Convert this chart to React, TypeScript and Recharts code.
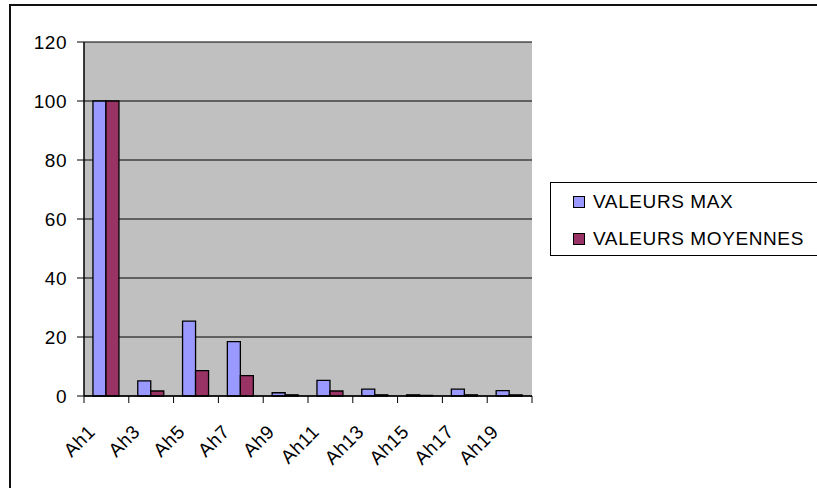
import { BarChart, Bar, XAxis, YAxis, CartesianGrid } from 'recharts';

const categories = ['Ah1', 'Ah3', 'Ah5', 'Ah7', 'Ah9', 'Ah11', 'Ah13', 'Ah15', 'Ah17', 'Ah19'];
const maxValues = [100, 5.1, 25.4, 18.4, 1.1, 5.3, 2.3, 0.4, 2.3, 1.8];
const moyValues = [100, 1.7, 8.6, 6.9, 0.4, 1.7, 0.4, 0.2, 0.4, 0.4];
const yTicks = [0, 20, 40, 60, 80, 100, 120];

const MAX_COLOR = '#9999FF';
const MOY_COLOR = '#993366';
const FONT = '"Liberation Sans", Arial, sans-serif';

const data = categories.map((name, i) => ({
  name,
  max: maxValues[i],
  moy: moyValues[i],
}));

function CategoryTick(props: any) {
  const { x, y, payload, index } = props;
  const half = payload?.offset ?? 22.4;
  const tx = x - 10;
  const ty = y + 37;
  return (
    <g>
      <line x1={x - half} y1={y} x2={x - half} y2={y + 7} stroke="#000" />
      {index === categories.length - 1 && (
        <line x1={x + half} y1={y} x2={x + half} y2={y + 7} stroke="#000" />
      )}
      <text
        x={tx}
        y={ty}
        textAnchor="end"
        fill="#000"
        fontSize={19}
        fontFamily={FONT}
        letterSpacing={0.5}
        transform={`rotate(-45, ${tx}, ${ty})`}
      >
        {payload.value}
      </text>
    </g>
  );
}

function LegendBox() {
  const items = [
    { label: 'VALEURS MAX', color: MAX_COLOR },
    { label: 'VALEURS MOYENNES', color: MOY_COLOR },
  ];
  return (
    <div
      style={{
        position: 'absolute',
        left: 550,
        top: 182,
        border: '1px solid #000',
        height: 74,
        width: 300,
        boxSizing: 'border-box',
        paddingLeft: 22,
        background: '#fff',
      }}
    >
      {items.map((it) => (
        <div key={it.label} style={{ height: 37, display: 'flex', alignItems: 'center' }}>
          <span
            style={{
              width: 10,
              height: 10,
              background: it.color,
              border: '1px solid #000',
              marginRight: 8,
              flex: 'none',
            }}
          />
          <span
            style={{
              fontSize: 19,
              fontFamily: FONT,
              color: '#000',
              whiteSpace: 'nowrap',
              letterSpacing: 0.6,
            }}
          >
            {it.label}
          </span>
        </div>
      ))}
    </div>
  );
}

export default function App() {
  return (
    <div
      style={{
        position: 'fixed',
        left: 0,
        top: 0,
        width: 817,
        height: 488,
        overflow: 'hidden',
        background: '#fff',
        fontFamily: FONT,
      }}
    >
      <div
        style={{
          position: 'absolute',
          left: 9,
          top: 4,
          width: 900,
          height: 600,
          border: '2px solid #111',
        }}
      />
      <div style={{ position: 'absolute', left: 0, top: 0 }}>
        <BarChart
          width={817}
          height={488}
          data={data}
          margin={{ top: 42, right: 285, left: 24, bottom: 12 }}
          barCategoryGap="20%"
          barGap={0}
        >
          <CartesianGrid vertical={false} stroke="#000" strokeWidth={1.2} fill="#C0C0C0" />
          <XAxis
            dataKey="name"
            height={80}
            axisLine={{ stroke: '#000', strokeWidth: 1.5 }}
            tickLine={false}
            tickSize={0}
            tickMargin={0}
            interval={0}
            tick={<CategoryTick />}
          />
          <XAxis
            xAxisId="top"
            dataKey="name"
            orientation="top"
            height={0}
            tick={false}
            tickLine={false}
            axisLine={{ stroke: '#808080' }}
          />
          <YAxis
            width={60}
            domain={[0, 120]}
            ticks={yTicks}
            interval={0}
            axisLine={{ stroke: '#000', strokeWidth: 1.5 }}
            tickLine={{ stroke: '#000' }}
            tickSize={7}
            tickMargin={10}
            tick={{ fill: '#000', fontSize: 19, fontFamily: FONT, letterSpacing: 0.5 }}
          />
          <YAxis
            yAxisId="right"
            orientation="right"
            width={0}
            tick={false}
            tickLine={false}
            axisLine={{ stroke: '#808080' }}
          />
          <Bar dataKey="max" name="VALEURS MAX" fill={MAX_COLOR} stroke="#000" strokeWidth={1.3} isAnimationActive={false} />
          <Bar dataKey="moy" name="VALEURS MOYENNES" fill={MOY_COLOR} stroke="#000" strokeWidth={1.3} isAnimationActive={false} />
        </BarChart>
      </div>
      <LegendBox />
    </div>
  );
}
